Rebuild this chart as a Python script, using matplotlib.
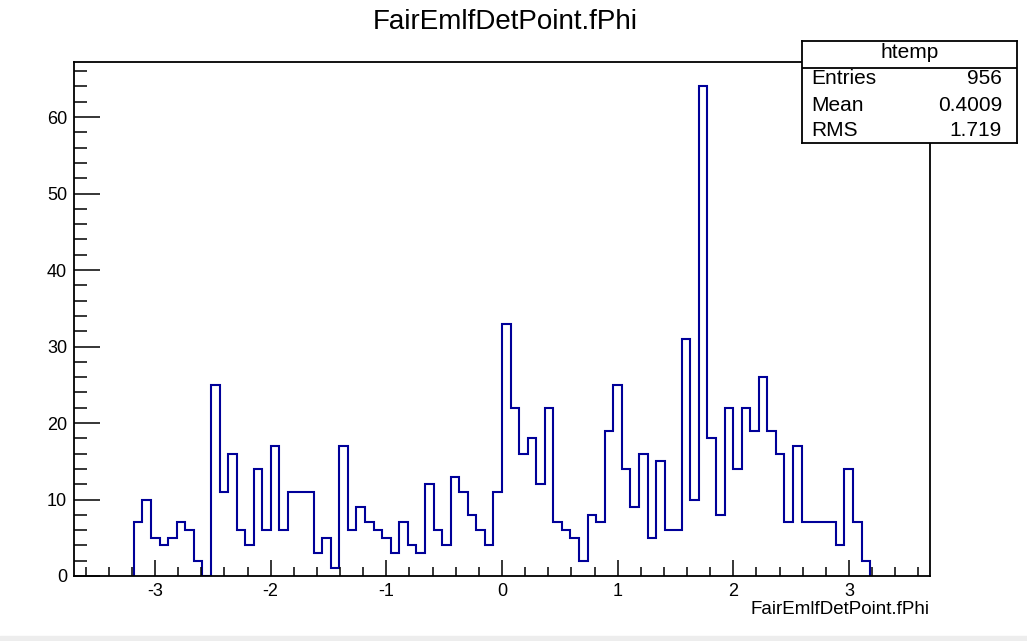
import numpy as np
import matplotlib
matplotlib.use("Agg")
import matplotlib.pyplot as plt
from matplotlib.patches import Rectangle

plt.rcParams['font.family'] = ['Liberation Sans', 'DejaVu Sans']

# histogram: 100 bins from -3.7 to 3.7, only bins 7..92 are filled
n_bins = 100
x_lo, x_hi = -3.7, 3.7
first_bin = 7
counts = [7, 10, 5, 4, 5, 7, 6, 2, 0, 25, 11, 16, 6, 4, 14, 6, 17, 6, 11, 11,
          11, 3, 5, 1, 17, 6, 9, 7,
          6, 5, 3, 7, 4, 3, 12, 6, 4, 13, 11, 8, 6, 4, 11,
          33, 22, 16, 18, 12, 22, 7, 6, 5, 2, 8, 7, 19, 25, 14,
          9, 16, 5, 15, 6, 6, 31, 10, 64, 18, 8, 22, 14, 22, 19, 26, 19, 16,
          7, 17, 7, 7, 7, 7, 4, 14, 7, 2]
x_ticks = [-3, -2, -1, 0, 1, 2, 3]
y_ticks = [0, 10, 20, 30, 40, 50, 60]

stat_names = ["Entries", "Mean", "RMS"]
stat_values = ["956", "0.4009", "1.719"]

edges = np.linspace(x_lo, x_hi, n_bins + 1)
used_edges = edges[first_bin:first_bin + len(counts) + 1]

W, H = 1027, 641
fig = plt.figure(figsize=(W / 100, H / 100), dpi=100)
ax = fig.add_axes([74 / W, 1 - 576 / H, (930 - 74) / W, (576 - 62) / H])

ax.stairs(counts, used_edges, baseline=0, color="#000099", lw=1.5)

ax.set_xlim(x_lo, x_hi)
ax.set_ylim(0, max(counts) * 1.05)
ax.set_xticks(x_ticks)
ax.set_xticklabels([str(t) for t in x_ticks])
ax.set_yticks(y_ticks)
ax.xaxis.set_minor_locator(matplotlib.ticker.MultipleLocator(0.2))
ax.yaxis.set_minor_locator(matplotlib.ticker.MultipleLocator(2))
ax.tick_params(axis="x", which="major", direction="in", length=11.5, width=1.1,
               labelsize=13, pad=5)
ax.tick_params(axis="x", which="minor", direction="in", length=6.5, width=1.1)
ax.tick_params(axis="y", which="major", direction="in", length=19, width=1.1,
               labelsize=13, pad=5)
ax.tick_params(axis="y", which="minor", direction="in", length=9.6, width=1.1)
for s in ax.spines.values():
    s.set_linewidth(1.3)

fig.text(505 / W, 1 - 22 / H, "FairEmlfDetPoint.fPhi", ha="center", va="center",
         fontsize=20)
fig.text(930 / W, 1 - 610 / H, "FairEmlfDetPoint.fPhi", ha="right", va="center",
         fontsize=13.5)

# stats box
bx0, bx1, by0, by1 = 801.7, 1016.7, 41, 143.3
box = fig.add_axes([bx0 / W, 1 - by1 / H, (bx1 - bx0) / W, (by1 - by0) / H])
box.set_xlim(0, 1)
box.set_ylim(0, 1)
box.set_xticks([])
box.set_yticks([])
for s in box.spines.values():
    s.set_linewidth(1.3)
box.axhline(0.739, color="black", lw=1.3)
box.text(0.5, 0.883, "htemp", ha="center", va="center", fontsize=15)
for name, val, yy in zip(stat_names, stat_values, [0.629, 0.365, 0.13]):
    box.text(0.0465, yy, name, ha="left", va="center", fontsize=15)
    box.text(0.9316, yy, val, ha="right", va="center", fontsize=15)

fig.patches.append(Rectangle((0, 0), 1, 5 / H, transform=fig.transFigure,
                             color="#ededed", zorder=0))

fig.savefig("out.png", dpi=100)
